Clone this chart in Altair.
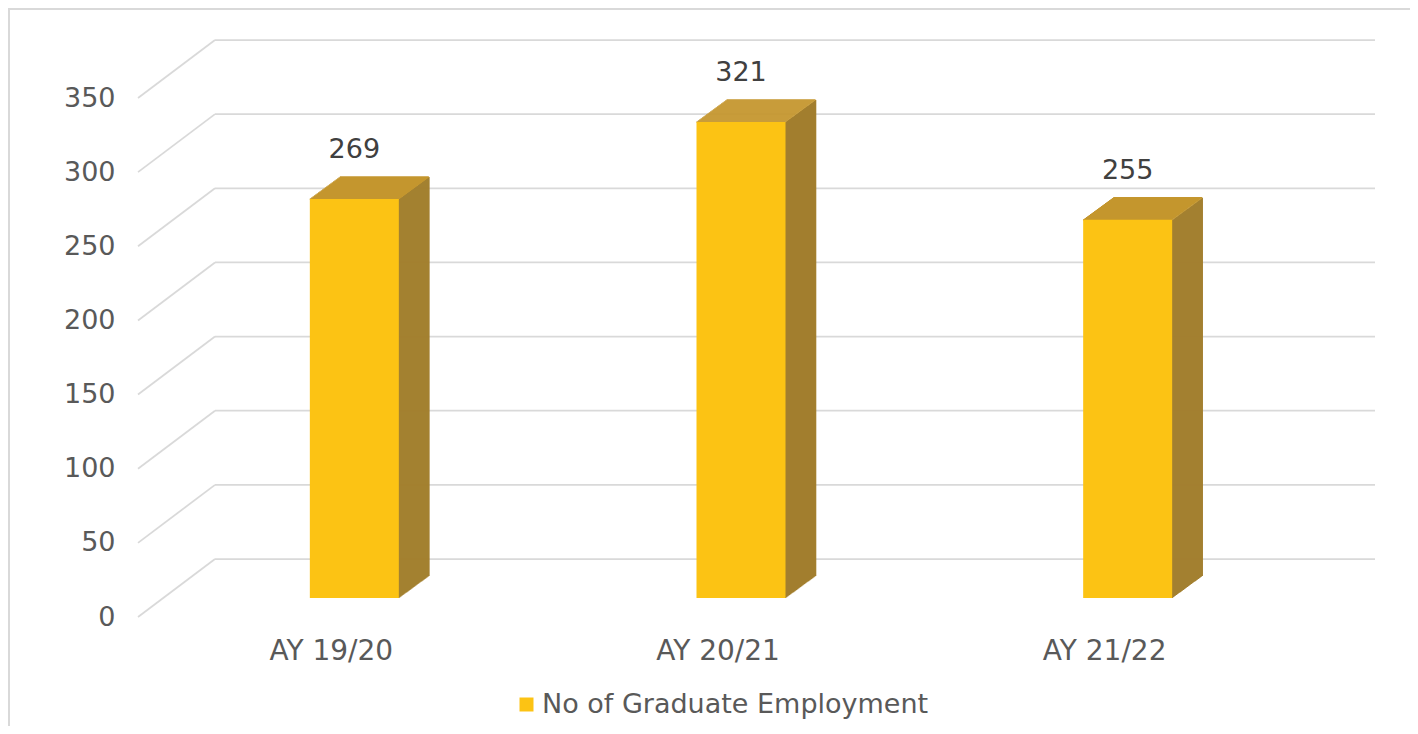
import altair as alt
import pandas as pd

# ---- data ----
years = ["AY 19/20", "AY 20/21", "AY 21/22"]
employment = [269, 321, 255]
series_name = "No of Graduate Employment"
y_ticks = [0, 50, 100, 150, 200, 250, 300, 350]

df = pd.DataFrame({"year": years, "value": employment, "series": [series_name] * len(years)})
grid_df = pd.DataFrame({"tick": y_ticks})

# ---- styling ----
FONT = "DejaVu Sans"
TXT = "#595959"
GRID = "#D9D9D9"
FRONT = "#FCC314"
TOP = "#C4962E"
SIDE = "#A37F2E"

W, H = 1160, 519
WALL_DX, WALL_DY = 77, -58         # depth of the floor/back wall
BAR_DX, BAR_DY = 23, -19           # bar placement inside the depth
BAR_W = 89
DEPTH_X, DEPTH_Y = 30, -22         # bar extrusion

xscale = alt.Scale(domain=years, paddingInner=0, paddingOuter=0)
yscale = alt.Scale(domain=[0, 350], nice=False, zero=True)

x_axis = alt.Axis(title=None, domain=False, ticks=False, grid=False, labelAngle=0,
                  labelFont=FONT, labelFontSize=28, labelColor=TXT, labelPadding=20)
y_axis = alt.Axis(title=None, values=y_ticks, domain=False, ticks=False, grid=False,
                  labelFont=FONT, labelFontSize=27, labelColor=TXT, labelPadding=23)

X = alt.X("year:N", scale=xscale, axis=x_axis)

# back wall gridlines
wall = alt.Chart(grid_df).mark_rule(color=GRID, strokeWidth=1.75, yOffset=WALL_DY).encode(
    x=alt.value(WALL_DX), x2=alt.value(W + WALL_DX),
    y=alt.Y("tick:Q", scale=yscale, axis=y_axis),
)
# side wall diagonal gridlines
diag = alt.Chart(grid_df).mark_rule(color=GRID, strokeWidth=1.75, y2Offset=WALL_DY).encode(
    x=alt.value(0), x2=alt.value(WALL_DX),
    y=alt.Y("tick:Q", scale=yscale, axis=y_axis), y2="tick:Q",
)

base = alt.Chart(df)
layers = [wall, diag]

# side faces of the 3D bars
for k in range(0, DEPTH_X + 1):
    dy = BAR_DY + DEPTH_Y * k / DEPTH_X
    layers.append(
        base.mark_rule(color=SIDE, strokeWidth=1.6,
                       xOffset=BAR_DX + BAR_W / 2 + k, yOffset=dy, y2Offset=dy).encode(
            x=X, y=alt.Y("value:Q", scale=yscale, axis=y_axis), y2=alt.datum(0)
        )
    )
# top faces of the 3D bars
for j in range(0, -DEPTH_Y + 1):
    dx = DEPTH_X * j / (-DEPTH_Y)
    layers.append(
        base.mark_rule(color=TOP, strokeWidth=1.6,
                       xOffset=BAR_DX - BAR_W / 2 + dx, x2Offset=BAR_DX + BAR_W / 2 + dx,
                       yOffset=BAR_DY - j).encode(
            x=X, x2="year:N", y=alt.Y("value:Q", scale=yscale, axis=y_axis)
        )
    )

# front faces
front = base.mark_bar(width=BAR_W, xOffset=BAR_DX, yOffset=BAR_DY, y2Offset=BAR_DY).encode(
    x=X,
    y=alt.Y("value:Q", scale=yscale, axis=y_axis),
    color=alt.Color("series:N", scale=alt.Scale(range=[FRONT]),
                    legend=alt.Legend(title=None, orient="none", legendX=375, legendY=593,
                                      symbolType="square", symbolSize=196, symbolStrokeWidth=0,
                                      labelFont=FONT, labelFontSize=27, labelColor=TXT,
                                      labelOffset=2, labelLimit=0, padding=0)),
)
layers.append(front)

labels = base.mark_text(font=FONT, fontSize=27, color="#404040", baseline="middle",
                        xOffset=BAR_DX, yOffset=-68).encode(
    x=X, y=alt.Y("value:Q", scale=yscale, axis=y_axis), text="value:Q"
)
layers.append(labels)

# outer chart border
border = alt.Chart(alt.Data(values=[{}])).mark_rect(fill=None, stroke=GRID, strokeWidth=2).encode(
    x=alt.value(-129), x2=alt.value(W + 400), y=alt.value(-89), y2=alt.value(H + 400)
)
layers.insert(0, border)

chart = alt.layer(*layers).properties(
    width=W, height=H,
    autosize=alt.AutoSizeParams(type="none"),
    padding={"left": 130, "top": 90, "right": 112, "bottom": 109},
    background="white",
).configure_view(stroke=None)

chart.save("out.html", embed_options={"renderer": "svg", "actions": False})
